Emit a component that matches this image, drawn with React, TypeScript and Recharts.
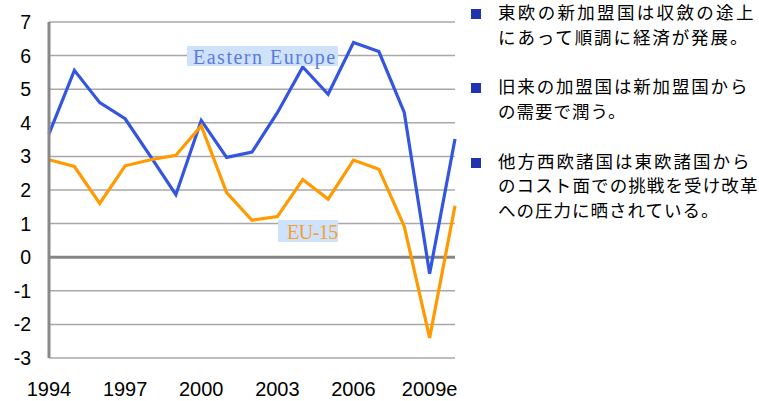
import React from 'react';
import { LineChart, Line, XAxis, YAxis, CartesianGrid, ReferenceLine } from 'recharts';

const years = [1994, 1995, 1996, 1997, 1998, 1999, 2000, 2001, 2002, 2003, 2004, 2005, 2006, 2007, 2008, 2009, 2010];
const easternEurope = [3.67, 5.56, 4.6, 4.12, 3.0, 1.86, 4.07, 2.97, 3.13, 4.3, 5.66, 4.85, 6.39, 6.12, 4.31, -0.49, 3.52];
const eu15 = [2.9, 2.7, 1.6, 2.72, 2.9, 3.03, 3.91, 1.92, 1.1, 1.21, 2.31, 1.73, 2.89, 2.62, 0.92, -2.4, 1.53];
const xTicks = [1994, 1997, 2000, 2003, 2006, 2009];
const xTickLabels = ['1994', '1997', '2000', '2003', '2006', '2009e'];
const yTicks = [-3, -2, -1, 0, 1, 2, 3, 4, 5, 6, 7];
const seriesLabels = ['Eastern Europe', 'EU-15'];
const bulletParagraphs = [
  ['東欧の新加盟国は収斂の途上', 'にあって順調に経済が発展。'],
  ['旧来の加盟国は新加盟国から', 'の需要で潤う。'],
  ['他方西欧諸国は東欧諸国から', 'のコスト面での挑戦を受け改革', 'への圧力に晒されている。'],
];

// layout only: justified widths of each wrapped line (0 = natural)
const lineFit = [
  [256, 250],
  [250, 0],
  [252, 260, 0],
];

const data = years.map((y, i) => ({ year: y, ee: easternEurope[i], eu: eu15[i] }));

const LINE_H = 24.7;

export default function App() {
  let lineIdx = 0;
  const textNodes: React.ReactNode[] = [];
  bulletParagraphs.forEach((para, p) => {
    const top0 = 0.8 + lineIdx * LINE_H;
    textNodes.push(
      <div key={'b' + p} style={{ position: 'absolute', left: 471, top: top0 + 8.5, width: 10, height: 10, background: '#1f33b0' }} />
    );
    para.forEach((line, j) => {
      const w = lineFit[p][j];
      textNodes.push(
        <div
          key={'t' + p + '_' + j}
          style={{
            position: 'absolute',
            left: 498,
            top: 0.3 + lineIdx * LINE_H,
            height: LINE_H,
            width: w ? w : undefined,
            lineHeight: LINE_H + 'px',
            fontSize: 17.5,
            letterSpacing: w ? 0.6 : 1.0,
            textAlign: w ? 'justify' : 'left',
            textAlignLast: w ? 'justify' : 'left',
            whiteSpace: w ? 'normal' : 'nowrap',
            color: '#000',
            fontFamily: '"Noto Sans CJK JP", sans-serif',
          } as React.CSSProperties}
        >
          {line}
        </div>
      );
      lineIdx++;
    });
    lineIdx++;
  });

  return (
    <div style={{ position: 'absolute', left: 0, top: 0, width: 759, height: 401, background: '#fff', overflow: 'hidden' }}>
      <LineChart width={470} height={401} data={data} margin={{ top: 22, right: 15, bottom: 0, left: 0 }}>
        <CartesianGrid vertical={false} stroke="#a8a8a8" strokeWidth={1.5} />
        <XAxis
          dataKey="year"
          type="number"
          domain={[1994, 2010]}
          ticks={xTicks}
          tickFormatter={(v: number) => xTickLabels[xTicks.indexOf(v)]}
          axisLine={false}
          tickLine={false}
          tickSize={0}
          tickMargin={24}
          height={43}
          interval={0}
          tick={{ fontSize: 20, fill: '#000', fontFamily: '"Liberation Sans", Arial, sans-serif' }}
        />
        <YAxis
          type="number"
          domain={[-3, 7]}
          ticks={yTicks}
          width={49}
          axisLine={{ stroke: '#888', strokeWidth: 3 }}
          tickLine={false}
          tickSize={0}
          tickMargin={18}
          interval={0}
          tick={{ fontSize: 19.5, fill: '#000', fontFamily: '"Liberation Sans", Arial, sans-serif' }}
        />
        <ReferenceLine y={0} stroke="#858585" strokeWidth={3} />
        <Line type="linear" dataKey="ee" stroke="#3355e0" strokeWidth={3.2} dot={false} isAnimationActive={false} />
        <Line type="linear" dataKey="eu" stroke="#ff9a00" strokeWidth={3.2} dot={false} isAnimationActive={false} />
      </LineChart>

      <div
        style={{
          position: 'absolute', left: 187, top: 46, width: 151, height: 20, background: '#cfe2fb',
          color: '#5a7ae0', fontFamily: '"Liberation Serif", serif', fontSize: 20, lineHeight: '20px',
          letterSpacing: 1.5, paddingLeft: 6, boxSizing: 'border-box', whiteSpace: 'nowrap', paddingTop: 1,
        }}
      >
        {seriesLabels[0]}
      </div>
      <div
        style={{
          position: 'absolute', left: 278, top: 220, width: 60, height: 22, background: '#cfe2fb',
          color: '#f5a030', fontFamily: '"Liberation Serif", serif', fontSize: 20, lineHeight: '22px',
          letterSpacing: -0.5, paddingLeft: 9, boxSizing: 'border-box', whiteSpace: 'nowrap', paddingTop: 1,
        }}
      >
        {seriesLabels[1]}
      </div>
      {textNodes}
    </div>
  );
}
